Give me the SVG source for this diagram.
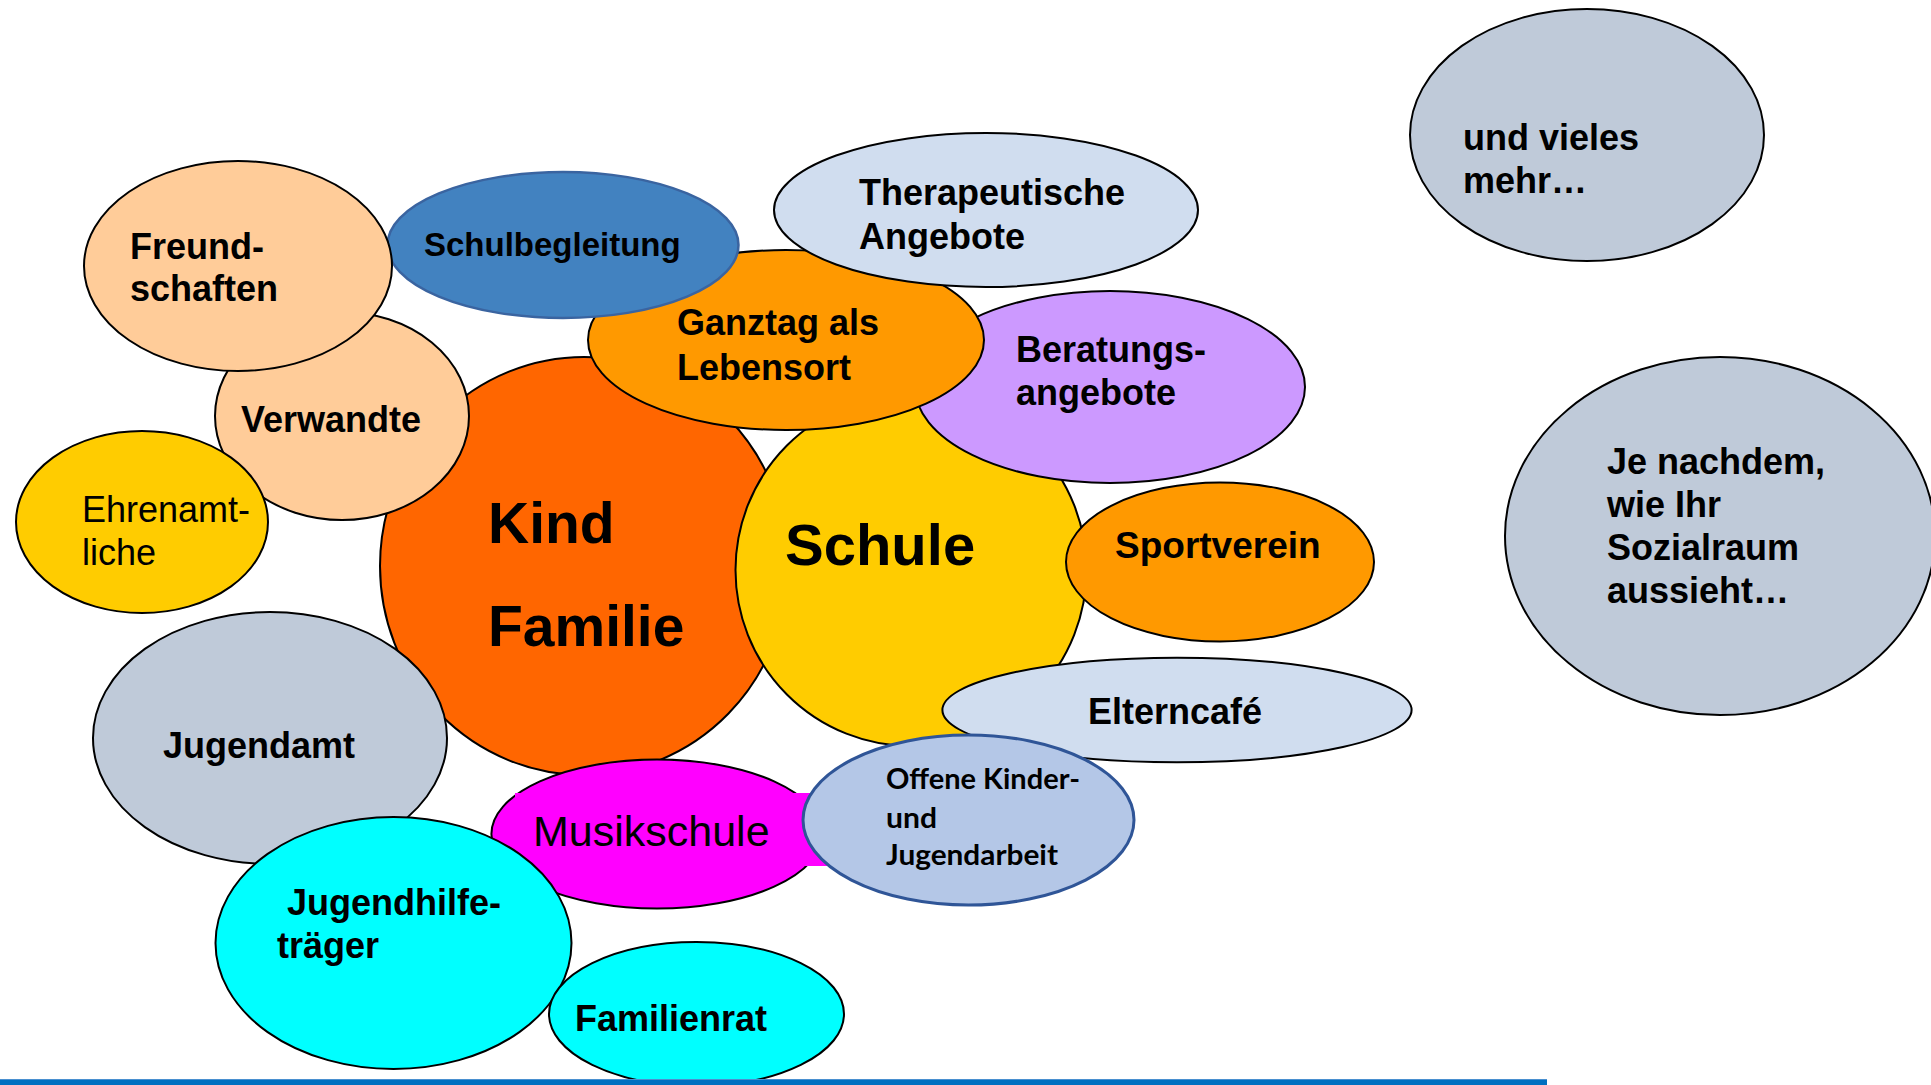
<svg xmlns="http://www.w3.org/2000/svg" width="1931" height="1085" viewBox="0 0 1931 1085">
<style>
  .n { stroke: #000000; stroke-width: 2; }
  .t { font-family: "Liberation Sans", Arial, sans-serif; font-weight: bold; font-size: 36px; fill: #000000; }
  .r { font-family: "Liberation Sans", Arial, sans-serif; font-weight: normal; fill: #000000; }
  .big { font-size: 57px; }
  .cal { font-family: Lato, "Open Sans", sans-serif; font-weight: bold; font-size: 29px; fill: #000000; }
  .peach { fill: #FFCC99; }
  .yellow { fill: #FFCC00; }
  .orange { fill: #FF9900; }
  .red { fill: #FF6600; }
  .lilac { fill: #CC99FF; }
  .pale { fill: #D0DDEF; }
  .grey { fill: #BFCAD9; }
  .cyan { fill: #00FFFF; }
  .mag { fill: #FF00FF; }
</style>

<g id="kind-familie">
  <ellipse class="n red" cx="584" cy="566" rx="204" ry="209"/>
  <text class="t big" x="488" y="543">Kind</text>
  <text class="t big" x="488" y="646">Familie</text>
</g>

<g id="schule">
  <ellipse class="n yellow" cx="911" cy="570" rx="175.5" ry="176"/>
  <text class="t" style="font-size:58px" x="785" y="565">Schule</text>
</g>

<g id="beratungsangebote">
  <ellipse class="n lilac" cx="1110" cy="387" rx="195" ry="96"/>
  <text class="t" x="1016" y="362">Beratungs-</text>
  <text class="t" x="1016" y="405">angebote</text>
</g>

<g id="ganztag">
  <ellipse class="n orange" cx="786" cy="340" rx="198" ry="90"/>
  <text class="t" x="677" y="335">Ganztag als</text>
  <text class="t" x="677" y="380">Lebensort</text>
</g>

<g id="schulbegleitung">
  <ellipse cx="563" cy="245" rx="175.5" ry="73" fill="#4282C0" stroke="#3A64A0" stroke-width="2.5"/>
  <text class="t" style="font-size:33px" x="424" y="256">Schulbegleitung</text>
</g>

<g id="therapeutische-angebote">
  <ellipse class="n pale" cx="986" cy="210" rx="212" ry="77"/>
  <text class="t" x="859" y="205">Therapeutische</text>
  <text class="t" x="859" y="249">Angebote</text>
</g>

<g id="sportverein">
  <ellipse class="n orange" cx="1220" cy="562" rx="154" ry="79.5"/>
  <text class="t" style="font-size:37px" x="1115" y="558">Sportverein</text>
</g>

<g id="elterncafe">
  <ellipse class="n pale" cx="1177" cy="710" rx="234.6" ry="52.3"/>
  <text class="t" x="1088" y="724">Elterncafé</text>
</g>

<g id="verwandte">
  <ellipse class="n peach" cx="342" cy="416" rx="127" ry="104"/>
  <text class="t" x="241" y="432">Verwandte</text>
</g>

<g id="freundschaften">
  <ellipse class="n peach" cx="238" cy="266" rx="154" ry="105"/>
  <text class="t" x="130" y="259">Freund-</text>
  <text class="t" x="130" y="301">schaften</text>
</g>

<g id="ehrenamtliche">
  <ellipse class="n yellow" cx="142" cy="522" rx="126" ry="91"/>
  <text class="r" style="font-size:36px" x="82" y="522">Ehrenamt-</text>
  <text class="r" style="font-size:36px" x="82" y="565">liche</text>
</g>

<g id="jugendamt">
  <ellipse class="n grey" cx="270" cy="738" rx="177" ry="126"/>
  <text class="t" x="163" y="758">Jugendamt</text>
</g>

<g id="musikschule">
  <ellipse class="n mag" cx="657" cy="834" rx="165.6" ry="74.5"/>
  <rect class="mag" x="515" y="793" width="315" height="73"/>
  <text class="r" style="font-size:43px" x="533" y="846">Musikschule</text>
</g>

<g id="offene-kinder-jugendarbeit">
  <ellipse cx="968.5" cy="820" rx="165.5" ry="85" fill="#B4C7E7" stroke="#2F5597" stroke-width="3"/>
  <text class="cal" x="886" y="789" textLength="194" lengthAdjust="spacingAndGlyphs">Offene Kinder-</text>
  <text class="cal" x="886" y="828" textLength="51" lengthAdjust="spacingAndGlyphs">und</text>
  <text class="cal" x="886" y="865" textLength="172" lengthAdjust="spacingAndGlyphs">Jugendarbeit</text>
</g>

<g id="jugendhilfetraeger">
  <ellipse class="n cyan" cx="393.5" cy="943" rx="178" ry="126"/>
  <text class="t" x="287" y="915">Jugendhilfe-</text>
  <text class="t" x="277" y="958">träger</text>
</g>

<g id="familienrat">
  <ellipse class="n cyan" cx="696.5" cy="1014" rx="147.5" ry="72"/>
  <text class="t" x="575" y="1031">Familienrat</text>
</g>

<g id="und-vieles-mehr">
  <ellipse class="n grey" cx="1587" cy="135" rx="177" ry="126"/>
  <text class="t" x="1463" y="150">und vieles</text>
  <text class="t" x="1463" y="193">mehr…</text>
</g>

<g id="je-nachdem">
  <ellipse class="n grey" cx="1720" cy="536" rx="215" ry="179"/>
  <text class="t" x="1607" y="474">Je nachdem,</text>
  <text class="t" x="1607" y="517">wie Ihr</text>
  <text class="t" x="1607" y="560">Sozialraum</text>
  <text class="t" x="1607" y="603">aussieht…</text>
</g>

<g id="bottom-line">
  <rect x="0" y="1079" width="1547" height="6" fill="#0070C0"/>
  <rect x="0" y="1079" width="1547" height="1" fill="#4A90D0"/>
</g>
</svg>
